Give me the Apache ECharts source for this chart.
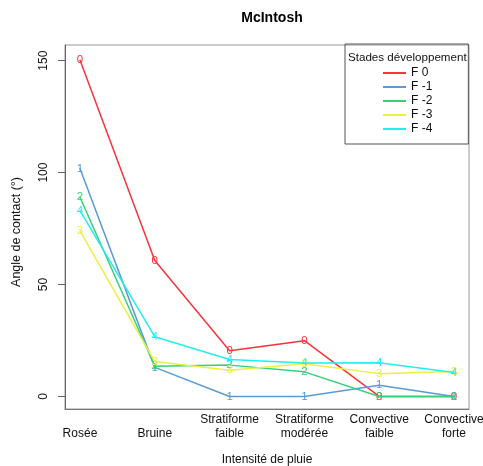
<!DOCTYPE html>
<html><head><meta charset="utf-8">
<script src="https://cdn.jsdelivr.net/npm/echarts@6/dist/echarts.min.js"></script>
<style>html,body{margin:0;padding:0;background:#fff}#c{width:483px;height:466px}</style>
</head><body><div id="c"></div>
<script>
const categories = ['Rosée', 'Bruine', 'Stratiforme\nfaible', 'Stratiforme\nmodérée', 'Convective\nfaible', 'Convective\nforte'];
const seriesNames = ['F 0', 'F -1', 'F -2', 'F -3', 'F -4'];
const seriesDigits = ['0', '1', '2', '3', '4'];
const seriesColors = ['#F8333C', '#5B9BD5', '#33D17A', '#EEEE44', '#22EEEE'];
const valuesF0 = [150.3, 60.7, 20.4, 24.9, 0, 0];
const valuesF1 = [101.8, 13, 0, 0, 5, 0];
const valuesF2 = [89, 13.5, 14, 11, 0, 0];
const valuesF3 = [74, 15.6, 11.7, 14.6, 10.2, 11.1];
const valuesF4 = [83, 26.7, 16.5, 14.9, 15.1, 10.7];
const yTicks = [0, 50, 100, 150];
const xTicks = [1, 2, 3, 4, 5, 6];

const allValues = [valuesF0, valuesF1, valuesF2, valuesF3, valuesF4];
const FONT = 'Liberation Sans, Arial, Helvetica, sans-serif';

const chart = echarts.init(document.getElementById('c'), null, {renderer: 'canvas'});
chart.setOption({
  animation: false,
  textStyle: {fontFamily: FONT},
  title: [
    {text: 'McIntosh', left: 267, top: 6, textAlign: 'center',
     textStyle: {fontFamily: FONT, fontSize: 14, fontWeight: 'bold', color: '#000'}},
    {text: 'Stades développement', left: 343, top: 47,
     textStyle: {fontFamily: FONT, fontSize: 11.6, fontWeight: 'normal', color: '#111'}}
  ],
  legend: {
    orient: 'vertical', left: 345, top: 44,
    data: seriesNames,
    icon: 'path://M0,0H23V2H0Z',
    itemWidth: 23, itemHeight: 14, itemGap: 0,
    padding: [22, 36, 8, 38],
    borderColor: '#555', borderWidth: 1,
    itemStyle: {borderWidth: 0},
    textStyle: {fontFamily: FONT, fontSize: 12, lineHeight: 14, color: '#111'}
  },
  grid: {left: 65, right: 14, top: 45, bottom: 57, show: true, borderColor: '#999', borderWidth: 1,
         containLabel: false, outerBoundsMode: 'none'},
  xAxis: {
    type: 'value', min: 0.8, max: 6.2,
    name: 'Intensité de pluie', nameLocation: 'middle', nameGap: 45,
    nameTextStyle: {fontFamily: FONT, fontSize: 12, color: '#111'},
    axisLine: {show: true, onZero: false, lineStyle: {color: '#777', width: 1}},
    axisTick: {show: false},
    splitLine: {show: false},
    axisLabel: {
      customValues: xTicks, margin: 4, fontSize: 12, lineHeight: 14, color: '#111', fontFamily: FONT,
      formatter: v => { const s = categories[Math.round(v) - 1] || ''; return s.indexOf('\n') >= 0 ? s : '\n' + s; }
    }
  },
  yAxis: {
    type: 'value', min: -5.6, max: 157,
    name: 'Angle de contact (°)', nameLocation: 'middle', nameGap: 42,
    nameTextStyle: {fontFamily: FONT, fontSize: 12.5, color: '#111', padding: [0, 10, 0, 0]},
    axisLine: {show: true, onZero: false, lineStyle: {color: '#666', width: 1}},
    axisTick: {show: true, customValues: yTicks, length: 7, lineStyle: {color: '#666'}},
    splitLine: {show: false},
    axisLabel: {customValues: yTicks, rotate: 90, margin: 15, fontSize: 12, color: '#111', fontFamily: FONT}
  },
  series: allValues.map((vals, i) => ({
    name: seriesNames[i],
    type: 'line',
    data: vals.map((v, j) => [xTicks[j], v]),
    color: seriesColors[i],
    symbol: 'circle', symbolSize: 1,
    lineStyle: {width: 1.5, color: seriesColors[i]},
    itemStyle: {color: seriesColors[i]},
    label: {show: true, position: 'inside', formatter: seriesDigits[i], color: seriesColors[i], fontSize: 11.5, fontFamily: FONT},
    emphasis: {disabled: true},
    z: 2 + i
  }))
});
</script></body></html>
